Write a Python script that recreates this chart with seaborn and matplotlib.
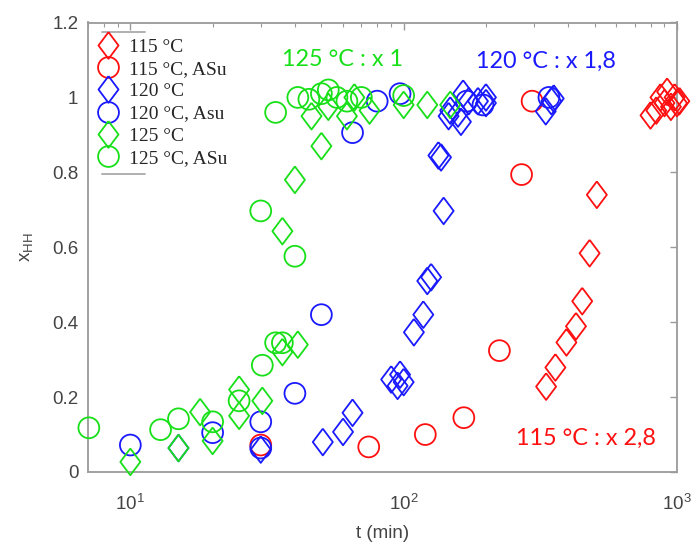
import numpy as np
import pandas as pd
import matplotlib
matplotlib.use("Agg")
import matplotlib.pyplot as plt
from matplotlib.lines import Line2D
from matplotlib.ticker import LogLocator, FixedLocator, FixedFormatter, NullFormatter
import seaborn as sns

# ---------------- data ----------------
labels = ["115 °C", "115 °C, ASu", "120 °C", "120 °C, Asu", "125 °C", "125 °C, ASu"]

r_d_t = [332, 359, 394, 427, 450, 479, 509, 800, 840, 870, 900, 920, 950, 980, 1000, 1020]
r_d_x = [0.228, 0.279, 0.346, 0.389, 0.456, 0.584, 0.74, 0.952, 0.965, 1.0, 0.985, 1.015, 0.975, 1.0, 0.985, 0.99]

r_c_t = [30, 74.5, 120, 166, 224, 270, 295]
r_c_x = [0.072, 0.067, 0.1, 0.145, 0.324, 0.794, 0.99]

b_d_t = [15, 30, 50.6, 60, 65, 90, 95, 97, 100, 109, 118, 122, 126, 140, 134, 137,
         146, 148, 158, 162, 165, 173, 187, 200, 200, 331, 347, 354]
b_d_x = [0.064, 0.06, 0.08, 0.107, 0.158, 0.247, 0.23, 0.26, 0.24, 0.373, 0.42, 0.51, 0.52, 0.697, 0.845, 0.84,
         0.95, 0.965, 0.957, 0.935, 1.01, 0.99, 0.99, 0.985, 1.0, 0.963, 0.99, 0.997]

b_c_t = [10, 20, 30, 30, 40, 50, 65, 80, 97, 170, 195, 340]
b_c_x = [0.072, 0.105, 0.134, 0.064, 0.21, 0.42, 0.906, 0.99, 1.01, 0.99, 0.98, 1.0]

g_d_t = [10, 15, 18, 20, 25, 25, 30.4, 36, 41, 36, 40, 50, 46, 53, 62, 66, 75, 100, 122, 148]
g_d_x = [0.027, 0.064, 0.16, 0.083, 0.22, 0.15, 0.19, 0.32, 0.34, 0.643, 0.78, 0.87, 0.95, 0.975, 0.95, 1.0, 0.965, 0.98, 0.98, 0.98]

g_c_t = [7.05, 12.9, 15, 20, 25, 30.4, 34, 36, 30, 40, 34, 41, 45, 50, 53, 57, 62, 70, 100]
g_c_x = [0.118, 0.113, 0.142, 0.134, 0.19, 0.285, 0.345, 0.345, 0.697, 0.576, 0.96, 1.0, 0.995, 1.01, 1.02, 1.0, 0.99, 1.0, 1.005]

annotations = ["125 °C : x 1", "120 °C : x 1,8", "115 °C : x 2,8"]
ann_pos_t = [36, 184, 257]
ann_pos_x = [1.1, 1.095, 0.09]

yticks = [0, 0.2, 0.4, 0.6, 0.8, 1.0, 1.2]
ytick_labels = ["0", "0.2", "0.4", "0.6", "0.8", "1", "1.2"]

# ---------------- style ----------------
RED, BLUE, GREEN = "#ff1010", "#1a1aff", "#18e018"
colors = [RED, RED, BLUE, BLUE, GREEN, GREEN]
diamond = [(0, 1), (0.75, 0), (0, -1), (-0.75, 0), (0, 1)]
markers = [diamond, "o"] * 3
sizes = [370, 225] * 3

sns.set_style("white")
plt.rcParams["font.family"] = ["Liberation Sans", "DejaVu Sans"]
plt.rcParams["mathtext.fontset"] = "custom"
plt.rcParams["mathtext.rm"] = "Liberation Sans"
plt.rcParams["mathtext.it"] = "Liberation Sans:italic"

fig = plt.figure(figsize=(6.94, 5.45), dpi=100)
ax = fig.add_axes([88 / 694, 1 - 472 / 545, 589 / 694, 449.5 / 545])

series = [(r_d_t, r_d_x), (r_c_t, r_c_x), (b_d_t, b_d_x), (b_c_t, b_c_x), (g_d_t, g_d_x), (g_c_t, g_c_x)]
for (t, x), lab, col, mk, sz in zip(series, labels, colors, markers, sizes):
    df = pd.DataFrame({"t": t, "x": x})
    sns.scatterplot(data=df, x="t", y="x", ax=ax, marker=mk, s=sz,
                    facecolor="none", edgecolor=col, linewidth=1.3,
                    legend=False, clip_on=False, zorder=3)

ax.set_xscale("log")
ax.set_xlim(7, 1000)
ax.set_ylim(0, 1.2)

ax.yaxis.set_major_locator(FixedLocator(yticks))
ax.yaxis.set_major_formatter(FixedFormatter(ytick_labels))
ax.xaxis.set_major_locator(LogLocator(base=10))
ax.xaxis.set_minor_locator(LogLocator(base=10, subs=np.arange(2, 10)))
ax.xaxis.set_minor_formatter(NullFormatter())

spine_col = "#9a9a9a"
for sp in ax.spines.values():
    sp.set_color(spine_col)
    sp.set_linewidth(1.3)
ax.tick_params(which="both", direction="in", top=True, right=True, color=spine_col,
               labelcolor="#444444", labelsize=13.5)
ax.tick_params(which="major", length=5, width=1.0)
ax.tick_params(which="minor", length=3, width=0.8)
ax.tick_params(axis="x", pad=16)
ax.tick_params(axis="y", pad=7)

ax.set_xlabel("t (min)", fontsize=13.5, color="#444444", labelpad=8)
ax.set_ylabel(r"x$_{\mathrm{HH}}$", fontsize=13.5, color="#444444", labelpad=12)

# annotations
ann_colors = [GREEN, BLUE, RED]
for txt, tt, xx, c in zip(annotations, ann_pos_t, ann_pos_x, ann_colors):
    ax.text(tt, xx, txt, color=c, fontsize=16.8, family="Lato", ha="left", va="center",
            bbox=dict(facecolor="white", edgecolor="none", pad=1), zorder=4)

# legend
handles = [Line2D([], [], linestyle="none", marker=mk, markersize=np.sqrt(sz),
                  markerfacecolor="none", markeredgecolor=col, markeredgewidth=1.3)
           for mk, sz, col in zip(markers, sizes, colors)]
leg = ax.legend(handles, labels, loc="upper left", bbox_to_anchor=(0.0, 0.985),
                frameon=False, prop={"family": "Liberation Serif", "size": 14},
                labelspacing=0.24, handlelength=1.2, handletextpad=0.45,
                borderaxespad=0.3, borderpad=0.15)
for yy in (0.979, 0.663):
    ax.add_line(Line2D([0.024, 0.097], [yy, yy], transform=ax.transAxes,
                       color="#aaaaaa", lw=1.3, zorder=2))

fig.savefig("out.png", dpi=100)
